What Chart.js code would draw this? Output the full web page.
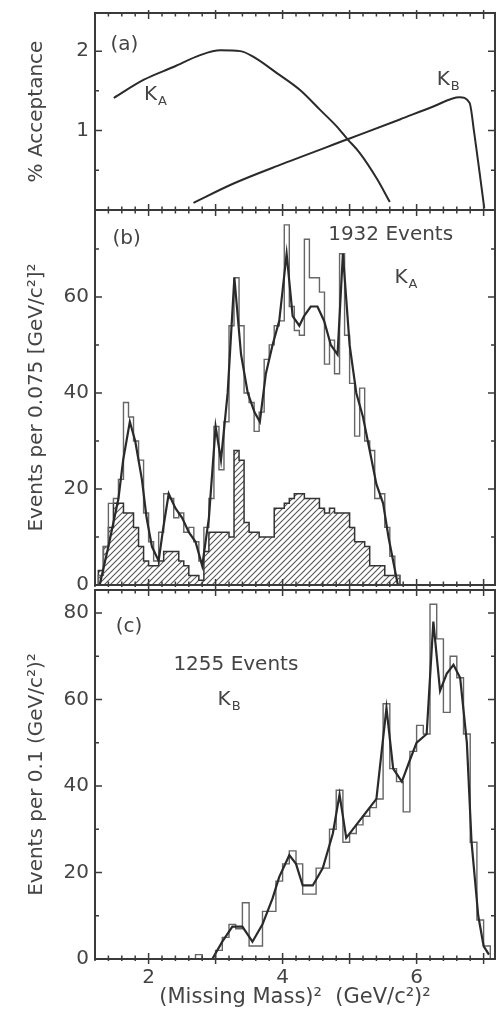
<!DOCTYPE html>
<html><head><meta charset="utf-8">
<script src="https://cdn.jsdelivr.net/npm/chart.js@4.4.1/dist/chart.umd.min.js"></script>
<style>
html,body{margin:0;padding:0;background:#fff;width:500px;height:1013px;overflow:hidden;position:relative}
canvas{position:absolute;left:0}
</style></head><body>
<canvas id="ca" width="500" height="211" style="top:0px"></canvas>
<canvas id="cb" width="500" height="400" style="top:209px"></canvas>
<canvas id="cc" width="500" height="424" style="top:589px"></canvas>
<script>
// ---------- shared axis ----------
const xRange = [1.2, 7.17];
const xTickLabels = [2, 4, 6];
const xTitle = "(Missing Mass)\u00B2  (GeV/c\u00B2)\u00B2";

// ---------- panel (a): % acceptance ----------
const accKAx = [1.48, 1.93, 2.37, 2.77, 3.07, 3.37, 3.56, 3.92, 4.26, 4.56, 4.81, 4.97, 5.15, 5.41, 5.60];
const accKAy = [1.41, 1.64, 1.80, 1.95, 2.01, 2.00, 1.93, 1.72, 1.51, 1.26, 1.05, 0.89, 0.72, 0.39, 0.10];
const accKBx = [2.67, 3.26, 4.00, 4.97, 5.75, 6.24, 6.64, 6.79, 6.86, 6.94, 7.01];
const accKBy = [0.09, 0.33, 0.58, 0.89, 1.14, 1.30, 1.42, 1.35, 0.97, 0.47, 0.02];
const yTicksA = [1, 2];

// ---------- panel (b): K_A events per 0.075 ----------
const binStartB = 1.25;
const binWidthB = 0.075;
const histB = [2, 8, 17, 18, 22, 38, 35, 30, 26, 15,
               9, 5, 11, 19, 18, 14, 15, 11, 12, 9,
               5, 12, 18, 33, 24, 34, 54, 64, 54, 40,
               38, 32, 36, 47, 50, 54, 55, 75, 58, 53,
               52, 72, 64, 64, 61, 46, 51, 44, 69, 52,
               42, 31, 41, 30, 28, 18, 19, 12, 6, 2];
const hatchB = [3, 8, 12, 17, 17, 15, 15, 12, 8, 5,
                4, 4, 5, 7, 7, 7, 5, 4, 2, 2,
                1, 7, 11, 11, 11, 11, 10, 28, 26, 13,
                11, 11, 10, 10, 10, 16, 16, 17, 18, 19,
                19, 18, 18, 18, 16, 15, 16, 15, 15, 15,
                12, 9, 9, 8, 4, 4, 4, 2, 2, 2];
const curveBx = [1.27, 1.40, 1.55, 1.62, 1.72, 1.80, 1.90, 1.97, 2.05, 2.15, 2.22, 2.30, 2.40, 2.50, 2.60, 2.70, 2.80, 2.90, 3.00, 3.08, 3.18, 3.28, 3.38, 3.48, 3.58, 3.66, 3.75, 3.85, 3.95, 4.06, 4.15, 4.25, 4.32, 4.42, 4.52, 4.62, 4.72, 4.82, 4.90, 5.00, 5.10, 5.20, 5.30, 5.40, 5.50, 5.58, 5.65, 5.72];
const curveBy = [0, 8, 18, 26, 34, 30, 22, 14, 8, 5, 12, 19, 16, 14, 11, 9, 4, 14, 33, 26, 40, 64, 48, 40, 36, 34, 44, 50, 55, 69, 56, 54, 56, 58, 58, 55, 50, 48, 69, 50, 40, 35, 28, 21, 17, 10, 5, 0];
const yTicksB = [0, 20, 40, 60];

// ---------- panel (c): K_B events per 0.1 ----------
const binStartC = 2.7;
const binWidthC = 0.1;
const histC = [1, 0, 0, 2, 5, 8, 7, 13, 3, 3,
               11, 11, 18, 22, 25, 22, 15, 15, 21, 21,
               30, 39, 27, 29, 31, 33, 35, 37, 59, 44,
               41, 34, 48, 54, 52, 82, 74, 57, 70, 65,
               52, 27, 9, 3];
const curveCx = [2.95, 3.10, 3.25, 3.40, 3.55, 3.70, 3.85, 3.95, 4.10, 4.20, 4.30, 4.45, 4.60, 4.75, 4.85, 4.95, 5.10, 5.25, 5.40, 5.55, 5.65, 5.78, 5.90, 6.00, 6.15, 6.25, 6.35, 6.45, 6.55, 6.65, 6.75, 6.82, 6.92, 7.00, 7.08];
const curveCy = [0, 4, 7.5, 7.5, 4, 8, 14, 19, 24, 22, 17, 17, 21, 29, 38, 28, 31, 34, 37, 58, 44, 41, 46, 50, 52, 78, 62, 66, 68, 65, 50, 27, 10, 3, 1];
const yTicksC = [0, 20, 40, 60, 80];

// ---------- helpers ----------
const FONT = "'DejaVu Sans', sans-serif";
const INK = '#2a2a2a';
const TXT = '#444';

function xy(xs, ys) { return xs.map((x, i) => ({x: x, y: ys[i]})); }
function steps(start, w, vals) {
  const pts = [{x: start, y: 0}];
  vals.forEach((v, i) => pts.push({x: start + i * w, y: v}));
  pts.push({x: start + vals.length * w, y: 0});
  return pts;
}
function hatchPattern() {
  const c = document.createElement('canvas'); c.width = 6; c.height = 6;
  const g = c.getContext('2d');
  g.strokeStyle = '#555'; g.lineWidth = 1.1;
  g.beginPath();
  g.moveTo(0, 6); g.lineTo(6, 0);
  g.moveTo(-3, 3); g.lineTo(3, -3);
  g.moveTo(3, 9); g.lineTo(9, 3);
  g.stroke();
  return g.createPattern(c, 'repeat');
}

function framePlugin(cfg) {
  return {
    id: 'frame',
    afterDatasetsDraw(chart) {
      const {ctx, chartArea: a, scales: {x, y}} = chart;
      ctx.save();
      ctx.strokeStyle = '#3a3a3a';
      ctx.lineWidth = 2;
      ctx.strokeRect(a.left, a.top, a.right - a.left, a.bottom - a.top);
      ctx.lineWidth = 1.5;
      ctx.beginPath();
      for (let i = 0; ; i++) {
        const v = 1.2 + i * 0.2;
        if (v > x.max + 1e-6) break;
        const px = x.getPixelForValue(v);
        const major = Math.abs(v - Math.round(v)) < 1e-6;
        const L = major ? 6 : 3.5;
        ctx.moveTo(px, a.bottom + (major ? 5 : 2)); ctx.lineTo(px, a.bottom - L);
        ctx.moveTo(px, a.top - (major ? 3 : 1)); ctx.lineTo(px, a.top + L);
      }
      for (let i = 0; ; i++) {
        const v = i * cfg.yMinor;
        if (v > y.max + 1e-6) break;
        const py = y.getPixelForValue(v);
        const major = cfg.yTicks.indexOf(Math.round(v * 100) / 100) >= 0;
        const L = major ? 7 : 4;
        ctx.moveTo(a.left, py); ctx.lineTo(a.left + L, py);
        ctx.moveTo(a.right, py); ctx.lineTo(a.right - L, py);
      }
      ctx.stroke();
      // in-plot text
      ctx.fillStyle = TXT;
      ctx.textBaseline = 'middle';
      ctx.textAlign = 'left';
      cfg.texts.forEach(t => {
        const px = x.getPixelForValue(t.x), py = y.getPixelForValue(t.y);
        ctx.font = (t.size || 20) + 'px ' + FONT;
        ctx.fillText(t.text, px, py);
        if (t.sub) {
          const w = ctx.measureText(t.text).width;
          ctx.font = '13px ' + FONT;
          ctx.fillText(t.sub, px + w + 1, py + 7);
        }
      });
      ctx.restore();
    }
  };
}

function makeChart(id, cfg) {
  return new Chart(document.getElementById(id), {
    type: 'line',
    data: {datasets: cfg.datasets},
    options: {
      responsive: false, animation: false, devicePixelRatio: 1,
      layout: {padding: cfg.padding},
      plugins: {legend: {display: false}, tooltip: {enabled: false}},
      elements: {point: {radius: 0, hoverRadius: 0}},
      scales: {
        x: {
          type: 'linear', min: xRange[0], max: xRange[1], display: cfg.showX,
          grid: {display: false, drawTicks: false}, border: {display: false},
          afterBuildTicks: s => { s.ticks = xTickLabels.map(v => ({value: v})); },
          afterFit: s => { s.height = cfg.showX ? 54 : 0; s.paddingLeft = 0; s.paddingRight = 0; },
          ticks: {padding: 7, color: TXT, font: {family: FONT, size: 20}, maxRotation: 0, autoSkip: false},
          title: {display: true, text: xTitle, color: TXT, font: {family: FONT, size: 21}, padding: {top: 0, bottom: 3}}
        },
        y: {
          type: 'linear', min: 0, max: cfg.ymax,
          grid: {display: false, drawTicks: false}, border: {display: false},
          afterBuildTicks: s => { s.ticks = cfg.yTicks.map(v => ({value: v})); },
          afterFit: s => { s.width = 95; s.paddingTop = 0; s.paddingBottom = 0; },
          ticks: {padding: 6, color: TXT, font: {family: FONT, size: 20}, autoSkip: false},
          title: {display: true, text: cfg.yTitle, color: TXT, font: {family: FONT, size: 20}, padding: {top: 25, bottom: 0}}
        }
      }
    },
    plugins: [framePlugin(cfg)]
  });
}

// ---------- panel (a) ----------
makeChart('ca', {
  padding: {top: 13, bottom: 1, left: 0, right: 5},
  showX: false, ymax: 2.48, yTicks: yTicksA, yMinor: 0.5,
  yTitle: '% Acceptance',
  texts: [
    {x: 1.43, y: 2.08, text: '(a)'},
    {x: 1.93, y: 1.45, text: 'K', sub: 'A'},
    {x: 6.30, y: 1.64, text: 'K', sub: 'B'}
  ],
  datasets: [
    {data: xy(accKAx, accKAy), borderColor: INK, borderWidth: 2, cubicInterpolationMode: 'monotone', fill: false},
    {data: xy(accKBx, accKBy), borderColor: INK, borderWidth: 2, cubicInterpolationMode: 'monotone', fill: false}
  ]
});

// ---------- panel (b) ----------
makeChart('cb', {
  padding: {top: 1, bottom: 24, left: 0, right: 5},
  showX: false, ymax: 78.1, yTicks: yTicksB, yMinor: 10,
  yTitle: 'Events per 0.075 [GeV/c\u00B2]\u00B2',
  texts: [
    {x: 1.46, y: 72, text: '(b)'},
    {x: 4.68, y: 72.9, text: '1932 Events'},
    {x: 5.67, y: 64, text: 'K', sub: 'A'}
  ],
  datasets: [
    {data: xy(curveBx, curveBy), borderColor: INK, borderWidth: 2.2, fill: false},
    {data: steps(binStartB, binWidthB, histB), stepped: true, borderColor: '#666', borderWidth: 1.4, fill: false},
    {data: steps(binStartB, binWidthB, hatchB), stepped: true, borderColor: '#333', borderWidth: 1.5,
     backgroundColor: hatchPattern(), fill: 'origin'}
  ]
});

// ---------- panel (c) ----------
makeChart('cc', {
  padding: {top: 1, bottom: 0, left: 0, right: 5},
  showX: true, ymax: 85.3, yTicks: yTicksC, yMinor: 10,
  yTitle: 'Events per 0.1 (GeV/c\u00B2)\u00B2',
  texts: [
    {x: 1.51, y: 76.8, text: '(c)'},
    {x: 2.37, y: 68, text: '1255 Events'},
    {x: 3.03, y: 60, text: 'K', sub: 'B'}
  ],
  datasets: [
    {data: xy(curveCx, curveCy), borderColor: INK, borderWidth: 2.2, fill: false},
    {data: steps(binStartC, binWidthC, histC), stepped: true, borderColor: '#666', borderWidth: 1.4, fill: false}
  ]
});
</script>
</body></html>
